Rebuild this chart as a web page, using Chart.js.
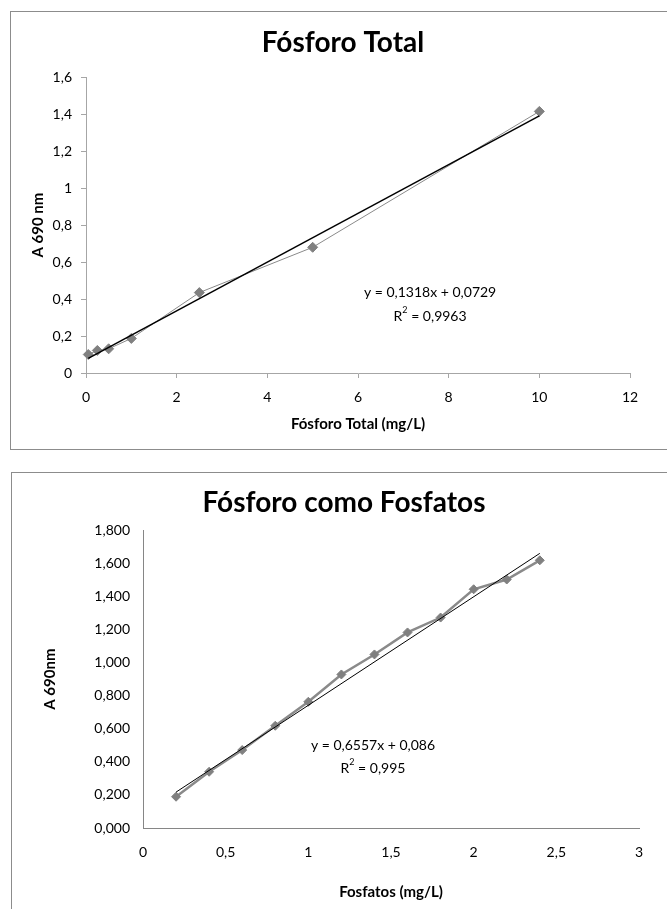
<!DOCTYPE html>
<html><head><meta charset="utf-8">
<script src="https://cdn.jsdelivr.net/npm/chart.js@4.4.1/dist/chart.umd.min.js"></script>
<style>
html,body{margin:0;padding:0;background:#fff;overflow:hidden;width:667px;height:909px;}
.box{position:absolute;border:1px solid #8c8c8c;background:#fff;}
#b1{left:10px;top:11px;width:664px;height:437px;}
#b2{left:11px;top:472px;width:664px;height:440px;}
canvas{display:block;}
</style></head><body>
<div class="box" id="b1"><canvas id="c1" width="649" height="437"></canvas></div>
<div class="box" id="b2"><canvas id="c2" width="657" height="440"></canvas></div>
<script>
// ---- Chart 1: Fósforo Total ----
const topTitle = 'Fósforo Total';
const topXTitle = 'Fósforo Total (mg/L)';
const topYTitle = 'A 690 nm';
const topX = [0.05, 0.25, 0.5, 1, 2.5, 5, 10];
const topY = [0.100, 0.122, 0.131, 0.187, 0.435, 0.680, 1.415];
const topTrendX = [0.05, 10];
const topTrendY = [0.079, 1.391];
const topXTicks = ['0', '2', '4', '6', '8', '10', '12'];
const topYTicks = ['0', '0,2', '0,4', '0,6', '0,8', '1', '1,2', '1,4', '1,6'];
const topEquation = ['y = 0,1318x + 0,0729', '0,9963'];

// ---- Chart 2: Fósforo como Fosfatos ----
const botTitle = 'Fósforo como Fosfatos';
const botXTitle = 'Fosfatos (mg/L)';
const botYTitle = 'A 690nm';
const botX = [0.2, 0.4, 0.6, 0.8, 1.0, 1.2, 1.4, 1.6, 1.8, 2.0, 2.2, 2.4];
const botY = [0.189, 0.340, 0.471, 0.618, 0.763, 0.928, 1.049, 1.182, 1.272, 1.443, 1.502, 1.618];
const botTrendX = [0.2, 2.4];
const botTrendY = [0.217, 1.660];
const botXTicks = ['0', '0,5', '1', '1,5', '2', '2,5', '3'];
const botYTicks = ['0,000', '0,200', '0,400', '0,600', '0,800', '1,000', '1,200', '1,400', '1,600', '1,800'];
const botEquation = ['y = 0,6557x + 0,086', '0,995'];

const FONT = 'Lato';
const pts = (xs, ys) => xs.map((v, i) => ({x: v, y: ys[i]}));

const eqPlugin = {
  id: 'eq',
  afterDatasetsDraw(chart, args, o) {
    const {ctx} = chart;
    const xs = chart.scales.x, ys = chart.scales.y;
    ctx.save();
    ctx.fillStyle = '#000';
    ctx.textBaseline = 'middle';
    const cx = xs.getPixelForValue(o.at[0]);
    ctx.font = '14px ' + FONT;
    ctx.textAlign = 'center';
    ctx.fillText(o.lines[0], cx, ys.getPixelForValue(o.at[1]));
    const y2 = ys.getPixelForValue(o.at[2]);
    const p1 = 'R', p3 = ' = ' + o.lines[1];
    const w1 = ctx.measureText(p1).width, w3 = ctx.measureText(p3).width;
    ctx.font = '9px ' + FONT;
    const w2 = ctx.measureText('2').width;
    let sx = cx - (w1 + w2 + w3) / 2;
    ctx.textAlign = 'left';
    ctx.font = '14px ' + FONT; ctx.fillText(p1, sx, y2);
    ctx.font = '9px ' + FONT; ctx.fillText('2', sx + w1, y2 - 6);
    ctx.font = '14px ' + FONT; ctx.fillText(p3, sx + w1 + w2, y2);
    ctx.restore();
  }
};

function makeChart(id, cfg) {
  return new Chart(document.getElementById(id), {
    type: 'scatter',
    data: {
      datasets: [
        {
          data: pts(cfg.trendX, cfg.trendY), showLine: true,
          borderColor: '#000', borderWidth: cfg.trendW, pointRadius: 0, clip: false
        },
        {
          data: pts(cfg.xs, cfg.ys), showLine: true,
          borderColor: '#8a8a8a', borderWidth: cfg.lineW,
          pointStyle: 'rectRot', pointRadius: cfg.ptR,
          pointBackgroundColor: '#808080', pointBorderColor: '#808080', pointBorderWidth: 1,
          clip: false
        }
      ]
    },
    options: {
      responsive: false, animation: false, devicePixelRatio: 1,
      layout: {padding: cfg.layoutPad},
      plugins: {
        legend: {display: false}, tooltip: {enabled: false},
        title: {
          display: true, text: cfg.title, color: '#000',
          font: {family: FONT, size: 28, weight: 'bold', lineHeight: 1.2},
          padding: cfg.titlePad
        },
        eq: {lines: cfg.eq, at: cfg.eqAt}
      },
      scales: {
        x: {
          type: 'linear', min: cfg.xMin, max: cfg.xMax,
          ticks: {stepSize: cfg.xStep, color: '#000', font: {family: FONT, size: 14}, padding: cfg.xTickPad,
                  maxRotation: 0, autoSkip: false,
                  callback: (v, i) => cfg.xTicks[i]},
          grid: {display: cfg.tickMarks, drawOnChartArea: false, drawTicks: cfg.tickMarks, tickLength: 5, color: cfg.axisColor},
          border: {display: true, color: cfg.axisColor, width: 1},
          title: {display: true, text: cfg.xTitle, color: '#000',
                  font: {family: FONT, size: 15, weight: 'bold', lineHeight: 1.2},
                  padding: {top: 0, bottom: cfg.xTitlePad}},
          afterFit: s => { s.height = cfg.xAxisH; }
        },
        y: {
          type: 'linear', min: cfg.yMin, max: cfg.yMax,
          ticks: {stepSize: cfg.yStep, color: '#000', font: {family: FONT, size: 14}, padding: cfg.yTickPad,
                  autoSkip: false,
                  callback: (v, i) => cfg.yTicks[i]},
          grid: {display: cfg.tickMarks, drawOnChartArea: false, drawTicks: cfg.tickMarks, tickLength: 5, color: cfg.axisColor},
          border: {display: true, color: cfg.axisColor, width: 1},
          title: {display: true, text: cfg.yTitle, color: '#000',
                  font: {family: FONT, size: 15, weight: 'bold', lineHeight: 1.2},
                  padding: {top: cfg.yTitlePad, bottom: 0}},
          afterFit: s => { s.width = cfg.yAxisW; }
        },
        yRightSpace: {
          type: 'linear', position: 'right', display: true,
          ticks: {display: false}, grid: {display: false, drawTicks: false},
          border: {display: false}, title: {display: false},
          afterFit: s => { s.width = cfg.rightSpace; }
        }
      }
    },
    plugins: [eqPlugin]
  });
}

makeChart('c1', {
  title: topTitle, xTitle: topXTitle, yTitle: topYTitle,
  xs: topX, ys: topY, trendX: topTrendX, trendY: topTrendY,
  xTicks: topXTicks, yTicks: topYTicks, eq: topEquation, eqAt: [7.59, 0.436, 0.307],
  xMin: 0, xMax: 12, xStep: 2, yMin: 0, yMax: 1.6, yStep: 0.2,
  trendW: 1.5, lineW: 1, ptR: 5, tickMarks: true, axisColor: '#a6a6a6',
  layoutPad: {left: 35, right: 20, top: 0, bottom: 0}, rightSpace: 10,
  titlePad: {top: 14, bottom: 17.6}, xAxisH: 76, yAxisW: 40,
  xTickPad: 10.6, yTickPad: 9, xTitlePad: 16, yTitlePad: -17
});

makeChart('c2', {
  title: botTitle, xTitle: botXTitle, yTitle: botYTitle,
  xs: botX, ys: botY, trendX: botTrendX, trendY: botTrendY,
  xTicks: botXTicks, yTicks: botYTicks, eq: botEquation, eqAt: [1.391, 0.501, 0.362],
  xMin: 0, xMax: 3, xStep: 0.5, yMin: 0, yMax: 1.8, yStep: 0.2,
  trendW: 1, lineW: 2.5, ptR: 4.5, tickMarks: false, axisColor: '#868686',
  layoutPad: {left: 37, right: 30, top: 0, bottom: 0}, rightSpace: 0,
  titlePad: {top: 13.5, bottom: 10.1}, xAxisH: 85, yAxisW: 94,
  xTickPad: 15.6, yTickPad: 13, xTitlePad: 12, yTitlePad: -8
});
</script>
</body></html>
